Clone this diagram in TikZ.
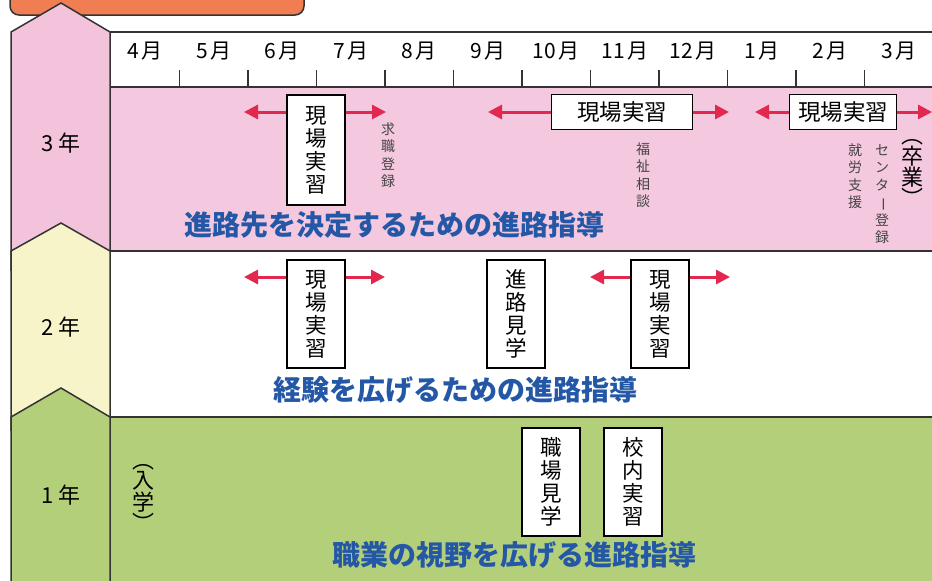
\documentclass[tikz,border=0pt]{standalone}
\usepackage{fontspec}
\usepackage{graphicx}
\setmainfont{Noto Sans CJK JP}
\usetikzlibrary{arrows.meta}
\definecolor{rowpink}{HTML}{F4C9DF}
\definecolor{colpink}{HTML}{F2C3DB}
\definecolor{colyellow}{HTML}{F8F4C9}
\definecolor{rowgreen}{HTML}{B4CF7A}
\definecolor{titleorange}{HTML}{F07E52}
\definecolor{guideblue}{HTML}{2458A6}
\definecolor{arrowred}{HTML}{E2284E}
\definecolor{linedark}{HTML}{333333}
\definecolor{notegray}{HTML}{444444}
\tikzset{
  rule/.style={draw=linedark, line width=1.5pt},
  tick/.style={draw=linedark, line width=1.2pt},
  month/.style={font=\fontsize{21}{24}\selectfont, inner sep=0pt},
  yearlbl/.style={font=\fontsize{22}{24}\selectfont, inner sep=0pt},
  vbox/.style={draw=black, line width=1.5pt, fill=white, minimum width=58pt, minimum height=108pt, inner sep=0pt, align=center, font=\fontsize{21.5}{23}\selectfont},
  hbox/.style={draw=black, line width=1.5pt, fill=white, minimum height=35pt, inner sep=0pt, font=\fontsize{22.5}{22}\selectfont},
  note/.style={align=center, inner sep=0pt, text=notegray, font=\fontsize{14}{17.5}\selectfont},
  paren/.style={align=center, inner sep=0pt, font=\fontsize{22}{20}\selectfont},
  guide/.style={inner sep=0pt, text=guideblue, font=\fontsize{28}{30}\selectfont\bfseries},
  rarr/.style={draw=arrowred, line width=3pt, -{Triangle[length=14pt,width=14pt]}},
}
\begin{document}
\begin{tikzpicture}[x=1pt,y=-1pt]
\useasboundingbox (0,0) rectangle (932,581);
\fill[white] (0,0) rectangle (932,581);
% title tab (cut off at top)
\draw[fill=titleorange, draw=linedark, line width=1.5pt, rounded corners=9pt] (10,-30) rectangle (304,15);
% row fills
\fill[rowpink] (110,87) rectangle (932,251);
\fill[white] (110,251) rectangle (932,417);
\fill[rowgreen] (110,417) rectangle (940,590);
% left column chevrons
\draw[fill=colpink, draw=linedark, line width=1.5pt] (11,32) -- (61,3) -- (110,32) -- (110,270) -- (11,270) -- cycle;
\draw[fill=colyellow, draw=linedark, line width=1.5pt] (11,251) -- (61,223) -- (110,251) -- (110,430) -- (11,430) -- cycle;
\draw[fill=rowgreen, draw=linedark, line width=1.5pt] (11,417) -- (61,388) -- (110,417) -- (110,600) -- (11,600) -- cycle;
% horizontal rules
\draw[rule] (110,32) -- (940,32);
\draw[rule] (110,87) -- (940,87);
\draw[rule] (110,251) -- (940,251);
\draw[rule] (110,417) -- (940,417);
% ticks
\foreach \k in {1,...,11} {
  \draw[tick] ({111+68.5*\k},70) -- ({111+68.5*\k},87);
}
% month labels
\foreach \m [count=\i from 0] in {4,5,6,7,8,9,10,11,12,1,2,3} {
  \node[month] (m\i) at ({111+68.5*(\i+0.5)},51) {\m\hspace{2.5pt}月};
}
% year labels
\node[yearlbl] (y3) at (61,143) {3\hspace{4pt}年};
\node[yearlbl] (y2) at (61,327) {2\hspace{4pt}年};
\node[yearlbl] (y1) at (61,495) {1\hspace{4pt}年};

% ===== 3rd year =====
\node[vbox, minimum height=110pt] (b31) at (316,150) {現\\場\\実\\習};
\coordinate (t31l) at (244,112);
\coordinate (t31r) at (386,112);
\draw[rarr] (b31.west |- t31l) -- (t31l);
\draw[rarr] (b31.east |- t31r) -- (t31r);
\node[note] (n1) at (388,155) {求\\職\\登\\録};

\node[hbox, minimum width=141pt] (b32) at (622,112) {現場実習};
\coordinate (t32l) at (488,112);
\coordinate (t32r) at (729,112);
\draw[rarr] (b32.west) -- (t32l);
\draw[rarr] (b32.east) -- (t32r);
\node[note] (n2) at (643,175) {福\\祉\\相\\談};

\node[hbox, minimum width=107pt] (b33) at (843,112) {現場実習};
\coordinate (t33l) at (755,112);
\coordinate (t33r) at (932,112);
\draw[rarr] (b33.west) -- (t33l);
\draw[rarr] (b33.east) -- (t33r);
\node[note] (n3) at (855,176) {就\\労\\支\\援};
\node[note] (n4) at (882,194) {セ\\ン\\タ\\\rotatebox[origin=c]{-90}{ー}\\登\\録};
\node[paren] (grad) at (912,173) {︵\\卒\\業\\︶};

\node[guide] (g3) at (394,225) {進路先を決定するための進路指導};

% ===== 2nd year =====
\node[vbox] (b21) at (316,314) {現\\場\\実\\習};
\coordinate (t21l) at (244,277);
\coordinate (t21r) at (385,277);
\draw[rarr] (b21.west |- t21l) -- (t21l);
\draw[rarr] (b21.east |- t21r) -- (t21r);

\node[vbox] (b22) at (516,314) {進\\路\\見\\学};

\node[vbox] (b23) at (660,314) {現\\場\\実\\習};
\coordinate (t23l) at (590,277);
\coordinate (t23r) at (730,277);
\draw[rarr] (b23.west |- t23l) -- (t23l);
\draw[rarr] (b23.east |- t23r) -- (t23r);

\node[guide] (g2) at (455,390) {経験を広げるための進路指導};

% ===== 1st year =====
\node[paren] (entry) at (143,498) {︵\\入\\学\\︶};
\node[vbox] (b11) at (551,482) {職\\場\\見\\学};
\node[vbox] (b12) at (633,482) {校\\内\\実\\習};
\node[guide] (g1) at (514,555) {職業の視野を広げる進路指導};
\end{tikzpicture}
\end{document}
